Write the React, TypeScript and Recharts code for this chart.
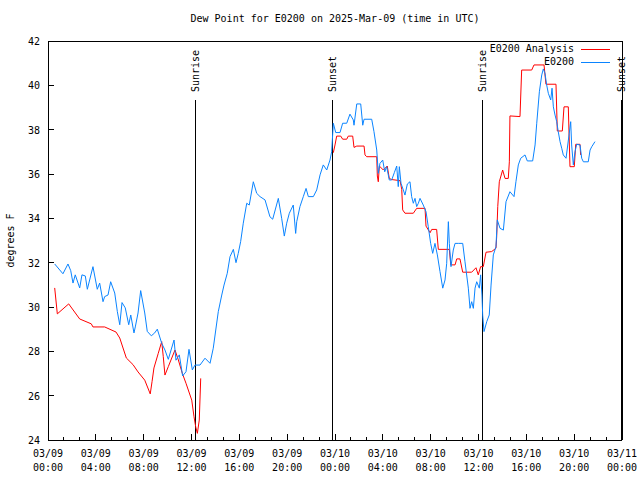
import { LineChart, Line, XAxis, YAxis, ReferenceLine } from "recharts";

// time is hours since 03/09 00:00 UTC
const obsHours = [
  0.56, 1.25, 1.67, 1.9, 2.09, 2.28, 2.65, 2.84, 3.12, 3.29, 3.76, 4.12, 4.32, 4.6, 4.74, 5.02, 5.24, 5.58, 5.8, 6.0,
  6.19, 6.46, 6.75, 6.92, 7.19, 7.3, 7.53, 7.75, 8.09, 8.3, 8.64, 8.92, 9.14, 9.51, 9.78, 10.06, 10.54, 10.7, 10.98, 11.26,
  11.54, 11.79, 12.07, 12.29, 12.71, 13.13, 13.55, 13.82, 14.24, 14.53, 14.72, 14.99, 15.22, 15.5, 15.72, 15.91, 16.11, 16.33, 16.62, 16.83,
  17.17, 17.45, 17.73, 18.15, 18.56, 18.79, 19.26, 19.54, 19.76, 19.96, 20.18, 20.51, 20.71, 20.8, 21.07, 21.35, 21.58, 21.77, 22.19, 22.47,
  22.75, 23.02, 23.31, 23.58, 23.72, 23.86, 24.06, 24.42, 24.64, 24.98, 25.25, 25.53, 25.59, 25.82, 26.15, 26.32, 26.43, 27.07, 27.26, 27.49,
  27.62, 27.76, 27.99, 28.16, 28.32, 28.54, 28.74, 28.96, 29.16, 29.29, 29.38, 29.52, 29.71, 29.85, 30.05, 30.27, 30.41, 30.55, 30.69, 30.83,
  30.97, 31.11, 31.38, 31.61, 31.8, 32.0, 32.17, 32.36, 32.56, 32.78, 33.01, 33.2, 33.34, 33.48, 33.56, 33.7, 33.89, 34.04, 34.31, 34.68,
  34.87, 35.15, 35.29, 35.43, 35.57, 35.71, 35.85, 36.07, 36.18, 36.29, 36.35, 36.46, 36.69, 36.9, 37.05, 37.24, 37.46, 37.57, 37.8, 38.08,
  38.3, 38.63, 38.97, 39.13, 39.33, 39.53, 39.89, 40.08, 40.53, 40.73, 40.87, 41.09, 41.29, 41.42, 41.56, 41.7, 41.84, 42.04, 42.15, 42.26,
  42.4, 42.54, 42.67, 42.82, 42.96, 43.09, 43.32, 43.59, 43.71, 43.79, 43.93, 44.07, 44.21, 44.49, 44.63, 44.77, 45.18, 45.33, 45.47, 45.74,
];
const obsDewPoint = [
  31.94, 31.5, 31.94, 31.64, 31.08, 31.45, 30.86, 31.45, 31.4, 30.8, 31.82, 30.8, 31.08, 30.24, 30.47, 30.54, 31.14, 30.63, 29.79, 29.2,
  30.2, 29.96, 29.2, 29.64, 28.83, 29.1, 29.73, 30.74, 29.73, 28.9, 28.7, 28.83, 29.0, 28.36, 28.06, 27.64, 28.51, 27.6, 27.84, 26.89,
  27.08, 28.09, 27.16, 27.38, 27.38, 27.69, 27.46, 28.14, 29.79, 30.54, 30.99, 31.52, 32.27, 32.6, 32.0, 32.42, 32.95, 33.78, 34.68, 34.6,
  35.65, 35.13, 34.98, 34.83, 34.07, 33.96, 34.9, 34.0, 33.2, 33.78, 34.23, 34.6, 33.32, 33.85, 34.53, 34.98, 35.35, 34.98, 34.98, 35.28,
  35.96, 36.41, 36.18, 36.63, 37.0, 38.29, 37.87, 37.87, 38.29, 38.29, 38.7, 38.44, 38.2, 39.16, 39.16, 38.2, 38.47, 38.47, 37.91, 37.08,
  36.03, 36.48, 36.63, 36.1, 36.33, 35.73, 35.73, 36.06, 36.36, 35.43, 36.33, 35.58, 35.28, 35.05, 35.55, 35.65, 34.98, 34.68, 34.9, 34.53,
  34.68, 34.9, 34.6, 34.3, 33.62, 32.87, 32.42, 32.87, 32.35, 31.6, 30.85, 31.22, 31.97, 33.85, 32.87, 31.82, 32.57, 32.87, 32.87, 32.87,
  32.04, 30.85, 29.94, 30.24, 29.94, 30.85, 31.14, 30.85, 31.45, 30.54, 29.64, 28.89, 29.34, 29.64, 30.99, 32.35, 32.72, 33.93, 33.55, 33.47,
  34.75, 35.2, 34.98, 35.65, 36.41, 36.71, 36.86, 36.59, 36.59, 37.31, 38.29, 39.71, 40.47, 40.74, 40.54, 40.02, 39.64, 39.34, 39.87, 39.03,
  38.66, 38.36, 37.91, 37.46, 37.16, 36.86, 36.71, 37.84, 38.36, 37.31, 36.41, 37.0, 37.34, 37.31, 36.71, 36.55, 36.55, 37.08, 37.23, 37.46,
];

const analysisHours = [
  0.56, 0.78, 1.73, 2.65, 3.62, 3.76, 4.74, 5.69, 6.0, 6.55, 7.11, 7.53, 8.09, 8.55, 8.7, 8.86, 9.22, 9.51, 9.64, 9.78,
  10.06, 10.62, 10.9, 11.23, 11.54, 12.02, 12.21, 12.35, 12.49, 12.65, 12.77, 18.0,
  23.86, 24.0, 24.14, 24.48, 24.64, 24.98, 25.11, 25.48, 25.59, 25.82, 26.43, 26.51, 26.65, 27.49, 27.54, 27.62, 27.71, 28.04,
  28.37, 28.54, 28.74, 29.44, 29.58, 29.66, 29.85, 30.55, 30.83, 31.53, 31.61, 31.95, 32.09, 32.5, 32.64, 33.56, 33.68, 34.04, 34.18, 34.45,
  34.68, 35.43, 35.79, 35.98, 36.18, 36.4, 36.63, 37.1, 37.46, 37.52, 37.61, 37.74, 38.02, 38.22, 38.49, 38.58, 38.63, 39.47, 39.61, 40.45,
  40.64, 41.48, 41.64, 42.48, 42.59, 43.01, 43.15, 43.51, 43.65, 44.01, 44.13, 44.49, 44.54,
];
const analysisDewPoint = [
  30.86, 29.69, 30.14, 29.46, 29.24, 29.1, 29.1, 28.87, 28.6, 27.7, 27.4, 27.07, 26.7, 26.08, 26.63, 27.25, 27.91, 28.44, 27.76, 26.93,
  27.31, 28.06, 27.61, 27.01, 26.56, 25.8, 25.05, 24.6, 24.3, 24.9, 26.78, null,
  36.96, 37.31, 37.71, 37.71, 37.57, 37.57, 37.71, 37.71, 37.2, 37.26, 37.26, 36.86, 36.78, 36.78, 35.91, 35.65, 36.36, 36.18,
  36.36, 35.8, 35.75, 35.7, 35.31, 34.38, 34.23, 34.23, 34.45, 34.45, 33.65, 33.35, 33.5, 33.5, 32.6, 32.6, 31.9, 31.9, 32.17, 32.17,
  31.57, 31.57, 31.77, 31.45, 31.82, 31.82, 32.47, 32.5, 32.65, 33.17, 34.53, 35.65, 36.18, 35.8, 35.8, 36.55, 38.62, 38.59, 40.69, 40.69,
  40.92, 40.92, 40.05, 40.05, 37.94, 37.94, 39.03, 39.03, 36.33, 36.33, 37.34, 37.34, 36.86,
];

const sunLabels = ["Sunrise", "Sunset", "Sunrise", "Sunset"];
const sunHours = [12.32, 23.77, 36.32, 47.92];

const xMajorTicks = [0, 4, 8, 12, 16, 20, 24, 28, 32, 36, 40, 44, 48];
const xDateLabels = ["03/09", "03/09", "03/09", "03/09", "03/09", "03/09", "03/10", "03/10", "03/10", "03/10", "03/10", "03/10", "03/11"];
const xTimeLabels = ["00:00", "04:00", "08:00", "12:00", "16:00", "20:00", "00:00", "04:00", "08:00", "12:00", "16:00", "20:00", "00:00"];
const yTicks = [24, 26, 28, 30, 32, 34, 36, 38, 40, 42];

const obsData = obsHours.map((t, i) => ({ t, v: obsDewPoint[i] }));
const analysisData = analysisHours.map((t, i) => ({ t, v: analysisDewPoint[i] }));

// gnuplot-style minor ticks: two between each pair of labelled ticks
const xAllTicks: number[] = [];
xMajorTicks.forEach((t, i) => {
  xAllTicks.push(t);
  if (i < xMajorTicks.length - 1) {
    xAllTicks.push(t + 4 / 3, t + 8 / 3);
  }
});

const FONT = "'DejaVu Sans Mono', monospace";
const RED = "#ff0000";
const BLUE = "#0a84ff";

const isMajor = (v: number) => Math.abs(v / 4 - Math.round(v / 4)) < 1e-6;

const BottomTick = (props: any) => {
  const { x, y, payload } = props;
  const major = isMajor(payload.value);
  const idx = xMajorTicks.indexOf(Math.round(payload.value));
  return (
    <g>
      <line x1={x} x2={x} y1={y} y2={y - (major ? 6 : 3)} stroke="#000" shapeRendering="crispEdges" />
      {major && idx >= 0 && (
        <text x={x} y={y} textAnchor="middle" fontFamily={FONT} fontSize={10} fill="#000">
          <tspan x={x} dy={17}>{xDateLabels[idx]}</tspan>
          <tspan x={x} dy={14}>{xTimeLabels[idx]}</tspan>
        </text>
      )}
    </g>
  );
};

const TopTick = (props: any) => {
  const { x, y, payload } = props;
  const major = isMajor(payload.value);
  return <line x1={x} x2={x} y1={y} y2={y + (major ? 6 : 3)} stroke="#000" shapeRendering="crispEdges" />;
};

const LeftTick = (props: any) => {
  const { x, y, payload } = props;
  return (
    <g>
      <line x1={x} x2={x + 6} y1={y} y2={y} stroke="#000" shapeRendering="crispEdges" />
      <text x={x - 8} y={y} dy={4} textAnchor="end" fontFamily={FONT} fontSize={10} fill="#000">
        {payload.value}
      </text>
    </g>
  );
};

const RightTick = (props: any) => {
  const { x, y } = props;
  return <line x1={x} x2={x - 6} y1={y} y2={y} stroke="#000" shapeRendering="crispEdges" />;
};

const sunMarker = (text: string) => (props: any) => {
  const { x, y, height } = props.viewBox;
  const ty = y + 51;
  return (
    <g>
      <line x1={x} x2={x} y1={y + 59} y2={y + height} stroke="#000" strokeWidth={1} shapeRendering="crispEdges" />
      <text
        x={x}
        y={ty}
        transform={`rotate(-90 ${x} ${ty})`}
        textAnchor="start"
        dominantBaseline="central"
        fontFamily={FONT}
        fontSize={10}
        fill="#000"
      >
        {text}
      </text>
    </g>
  );
};

const yAxisTitle = (props: any) => {
  const { x, y, height } = props.viewBox;
  const cx = x + 10;
  const cy = y + height / 2;
  return (
    <text x={cx} y={cy} transform={`rotate(-90 ${cx} ${cy})`} textAnchor="middle" dominantBaseline="central" fontFamily={FONT} fontSize={10} fill="#000">
      degrees F
    </text>
  );
};

const legendRow = (label: string, color: string, top: number) => (
  <div style={{ position: "absolute", top, right: 30, display: "flex", alignItems: "center", height: 12 }}>
    <span style={{ fontFamily: FONT, fontSize: 10, marginRight: 7, lineHeight: "12px" }}>{label}</span>
    <span style={{ display: "inline-block", width: 29, height: 1, background: color }} />
  </div>
);

export default function App() {
  return (
    <div style={{ position: "relative", width: 640, height: 480, background: "#fff" }}>
      <style>{"body{margin:0}"}</style>
      <LineChart width={640} height={480} margin={{ top: 0, right: 0, bottom: 0, left: 0 }}>
        <XAxis
          xAxisId="bottom"
          dataKey="t"
          type="number"
          domain={[0, 48]}
          ticks={xAllTicks}
          interval={0}
          height={40}
          tickSize={0}
          tickMargin={0}
          tickLine={false}
          tick={<BottomTick />}
          axisLine={{ stroke: "#000", shapeRendering: "crispEdges" }}
          allowDataOverflow
        />
        <XAxis
          xAxisId="top"
          orientation="top"
          dataKey="t"
          type="number"
          domain={[0, 48]}
          ticks={xAllTicks}
          interval={0}
          height={41}
          tickSize={0}
          tickMargin={0}
          tickLine={false}
          tick={<TopTick />}
          axisLine={{ stroke: "#000", shapeRendering: "crispEdges" }}
        />
        <YAxis
          yAxisId="left"
          type="number"
          domain={[24, 42]}
          ticks={yTicks}
          interval={0}
          width={48}
          tickSize={0}
          tickMargin={0}
          tickLine={false}
          tick={<LeftTick />}
          axisLine={{ stroke: "#000", shapeRendering: "crispEdges" }}
          label={{ content: yAxisTitle }}
          allowDataOverflow
        />
        <YAxis
          yAxisId="right"
          orientation="right"
          type="number"
          domain={[24, 42]}
          ticks={yTicks}
          interval={0}
          width={18}
          tickSize={0}
          tickMargin={0}
          tickLine={false}
          tick={<RightTick />}
          axisLine={{ stroke: "#000", shapeRendering: "crispEdges" }}
        />
        {sunHours.map((t, i) => (
          <ReferenceLine
            key={i}
            x={t}
            xAxisId="bottom"
            yAxisId="left"
            stroke="none"
            label={{ content: sunMarker(sunLabels[i]) }}
          />
        ))}
        <Line
          data={analysisData}
          dataKey="v"
          xAxisId="bottom"
          yAxisId="left"
          type="linear"
          stroke={RED}
          strokeWidth={1}
          dot={false}
          isAnimationActive={false}
        />
        <Line
          data={obsData}
          dataKey="v"
          xAxisId="bottom"
          yAxisId="left"
          type="linear"
          stroke={BLUE}
          strokeWidth={1}
          dot={false}
          isAnimationActive={false}
        />
      </LineChart>
      <div
        style={{
          position: "absolute",
          top: 13,
          left: 48,
          width: 574,
          textAlign: "center",
          fontFamily: FONT,
          fontSize: 10,
          lineHeight: "12px",
        }}
      >
        Dew Point for E0200 on 2025-Mar-09 (time in UTC)
      </div>
      {legendRow("E0200 Analysis", RED, 43)}
      {legendRow("E0200", BLUE, 56)}
    </div>
  );
}
